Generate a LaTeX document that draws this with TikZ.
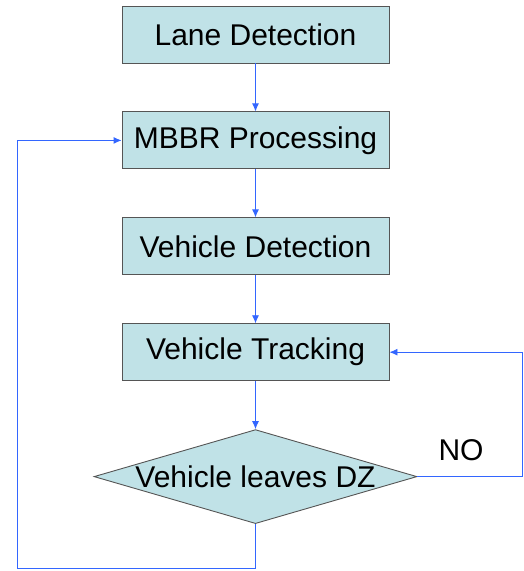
\documentclass[tikz,border=0pt]{standalone}
\usepackage{fontspec}
\setmainfont{Liberation Sans}
\usetikzlibrary{positioning,shapes.geometric,arrows.meta}
\definecolor{boxfill}{RGB}{192,226,231}
\definecolor{boxline}{RGB}{85,85,85}
\definecolor{flowblue}{RGB}{51,102,255}
\newcommand\boxsep{48pt}
\begin{document}
\begin{tikzpicture}[
    x=1pt,y=1pt,
    font=\fontsize{30}{34}\selectfont,
    node distance=\boxsep,
    stage/.style={draw=boxline,fill=boxfill,line width=0.9pt,minimum width=267pt,minimum height=57pt,inner sep=0pt},
    decision/.style={draw=boxline,fill=boxfill,line width=0.9pt,diamond,minimum width=323pt,minimum height=94pt,inner sep=0pt},
    flow/.style={draw=flowblue,line width=0.9pt,-{Latex[length=8pt,width=7pt]}}
  ]
    \useasboundingbox (0,0) rectangle (524,-571);

    \node[stage] (lane) at (255.5,-34.5) {Lane Detection};
    \node[stage,below=of lane] (mbbr) {MBBR Processing};
    \node[stage,below=of mbbr] (vdet) {Vehicle Detection};
    \node[stage,below=of vdet] (track) {Vehicle Tracking};
    \node[decision,below=of track,label=center:{Vehicle leaves DZ}] (dz) {};

    \coordinate (lowcorner) at (17,-568);
    \coordinate (rightx) at (522,0);

    \draw[flow] (lane) -- (mbbr);
    \draw[flow] (mbbr) -- (vdet);
    \draw[flow] (vdet) -- (track);
    \draw[flow] (track) -- (dz);

    % loops back
    \draw[flow] (dz.south) |- (lowcorner) |- (mbbr.west);
    \draw[flow] (dz.east) -- (dz.east -| rightx) |- (track.east);

    \node (no) at (461,-450) {NO};
  \end{tikzpicture}
\end{document}
